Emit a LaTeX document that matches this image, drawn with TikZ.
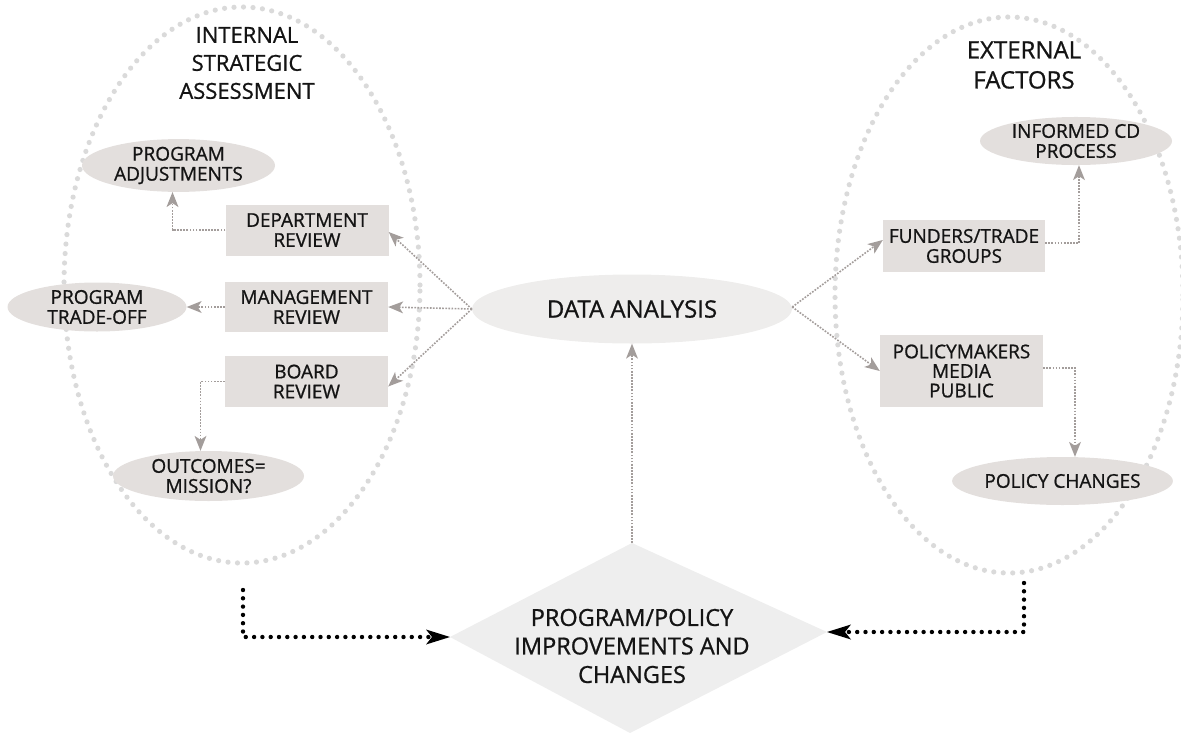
\documentclass[tikz,border=0pt]{standalone}
\usepackage{fontspec}
\setmainfont{Open Sans}[FakeBold=0.9]
\usetikzlibrary{shapes.geometric,arrows.meta}
\definecolor{boxfill}{HTML}{E3DFDD}
\definecolor{elfill}{HTML}{E3DFDD}
\definecolor{dafill}{HTML}{EEEDEC}
\definecolor{dmfill}{HTML}{EEEEEE}
\definecolor{conncol}{HTML}{A39D9B}
\definecolor{ringcol}{HTML}{DADADA}
\definecolor{txt}{HTML}{141414}
\begin{document}
\begin{tikzpicture}[x=1pt,y=-1pt,
  every node/.style={text=txt, align=center, inner sep=0pt},
  boxtxt/.style={font=\fontsize{19}{20}\selectfont},
  rbox/.style={boxtxt, rectangle, fill=boxfill, minimum width=163pt, minimum height=51pt},
  oval/.style={boxtxt, ellipse, fill=elfill, minimum width=192pt, minimum height=50pt},
  ringline/.style={draw=ringcol, line width=5.2pt, line cap=round, dash pattern=on 0pt off 9.5pt},
  conn/.style={draw=conncol, line width=1.6pt, dash pattern=on 1.7pt off 1.4pt,
     -{Stealth[length=15pt,width=12pt,inset=4pt,fill=conncol,line width=0pt]}},
  feed/.style={draw=black, line width=4.4pt, line cap=round, dash pattern=on 0pt off 8.3pt,
     -{Stealth[length=24pt,width=15pt,inset=6pt,fill=black,line width=0pt]}},
  ttl/.style={font=\fontsize{22}{28}\selectfont},
  ttlb/.style={font=\fontsize{24}{30}\selectfont},
  bigtxt/.style={font=\fontsize{23.5}{28.5}\selectfont}
]
\useasboundingbox (0,0) rectangle (1181,734);

% outer dotted rings
\draw[ringline] (242,285) ellipse [x radius=178pt, y radius=278pt];
\draw[ringline] (1009,295) ellipse [x radius=174pt, y radius=278pt];

% titles
\node[ttl] (tin) at (247,63) {INTERNAL\\STRATEGIC\\ASSESSMENT};
\node[ttlb] (tex) at (1024,65) {EXTERNAL\\FACTORS};

% left side nodes
\node[oval, minimum width=193pt, minimum height=51pt] (pa) at (178.5,165.5) {PROGRAM\\ADJUSTMENTS};
\node[rbox] (dept) at (307,230) {DEPARTMENT\\REVIEW};
\node[rbox, minimum height=50pt] (mgmt) at (306.5,307) {MANAGEMENT\\REVIEW};
\node[oval, minimum width=179pt, minimum height=49pt] (trade) at (97,307) {PROGRAM\\TRADE-OFF};
\node[rbox] (board) at (306.5,381.5) {BOARD\\REVIEW};
\node[oval, minimum width=191pt, minimum height=50pt] (outc) at (208.5,476) {OUTCOMES=\\MISSION?};

% centre
\node[ellipse, fill=dafill, minimum width=320pt, minimum height=69pt,
      font=\fontsize{24}{28}\selectfont] (da) at (632,309) {DATA ANALYSIS};

% right side nodes
\node[rbox, minimum width=162pt, minimum height=52pt] (fund) at (964,246) {FUNDERS/TRADE\\GROUPS};
\node[oval, minimum height=48pt] (inf) at (1076,141) {INFORMED CD\\PROCESS};
\node[rbox, minimum height=72pt, font=\fontsize{19}{19.5}\selectfont] (pmp) at (961.5,371) {POLICYMAKERS\\MEDIA\\PUBLIC};
\node[oval, minimum width=191pt, minimum height=48pt] (pc) at (1062.5,481) {POLICY CHANGES};

% diamond
\coordinate (dtop) at (632,543);
\coordinate (dright) at (827,632);
\coordinate (dbot) at (630,733);
\coordinate (dleft) at (450,637);
\fill[dmfill] (dtop) -- (dright) -- (dbot) -- (dleft) -- cycle;
\node[bigtxt] (dm) at (632,646) {PROGRAM/POLICY\\IMPROVEMENTS AND\\CHANGES};

% gray connectors
\draw[conn] (da.west) -- ([yshift=-2pt]dept.east);
\draw[conn] (da.west) -- (mgmt.east);
\draw[conn] (da.west) -- ([yshift=-5pt]board.east);
\draw[conn] ([yshift=2pt]da.east) -- ([yshift=6pt]fund.west);
\draw[conn] ([yshift=2pt]da.east) -- (pmp.west);
\draw[conn] (dept.west) -| ([xshift=-6pt]pa.south);
\draw[conn] (mgmt.west) -- (trade.east);
\draw[conn] (board.west) -| ([xshift=-8pt]outc.north);
\draw[conn] ([yshift=3pt]fund.east) -| ([xshift=3pt]inf.south);
\draw[conn] ([yshift=3pt]pmp.east) -| ([xshift=12.5pt]pc.north);
\draw[conn] (dtop) -- (da.south);

% black feedback connectors
\coordinate (lfs) at (243,590);
\coordinate (rfs) at (1024,583);
\draw[feed] (lfs) |- (dleft);
\draw[feed] (rfs) |- (dright);
\end{tikzpicture}
\end{document}
